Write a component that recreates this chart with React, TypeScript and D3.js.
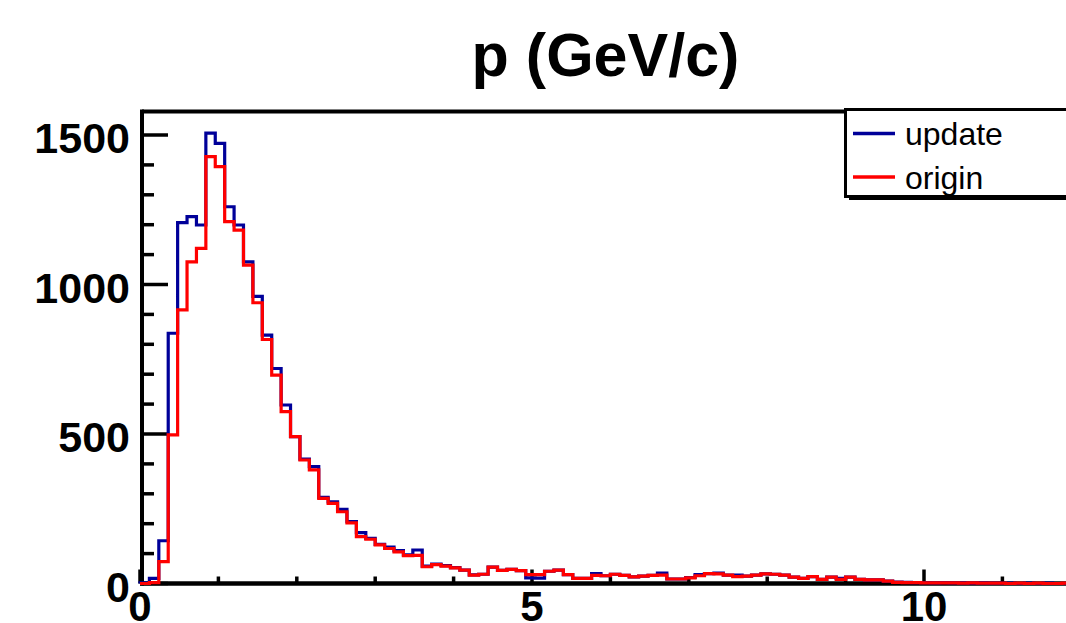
import React from "react";
import * as d3 from "d3";

// ---- data (100 bins, 0..12 GeV/c) ----
const binEdgesRange = [0, 12];
const nBins = 100;
const updateCounts = [
  2, 17, 143, 837, 1207, 1227, 1199, 1506, 1472, 1260,
  1199, 1076, 960, 831, 719, 597, 491, 416, 391, 288,
  273, 248, 207, 170, 151, 131, 122, 110, 96, 112,
  58, 65, 60, 53, 45, 29, 31, 55, 44, 47,
  43, 19, 18, 41, 45, 30, 17, 17, 33, 26,
  31, 27, 22, 25, 27, 35, 15, 15, 20, 30,
  33, 35, 28, 28, 25, 28, 32, 31, 28, 21,
  17, 23, 14, 21, 17, 21, 14, 12, 12, 8,
  5, 4, 3, 3, 2, 3, 2, 2, 1, 2,
  1, 1, 1, 0, 1, 0, 1, 0, 0, 1,
];
const originCounts = [
  0, 3, 73, 497, 915, 1076, 1121, 1428, 1394, 1210,
  1182, 1065, 939, 816, 697, 575, 491, 413, 380, 285,
  268, 240, 203, 157, 148, 129, 117, 106, 93, 94,
  56, 63, 58, 52, 45, 28, 31, 55, 44, 47,
  43, 30, 30, 41, 45, 30, 17, 17, 27, 26,
  31, 27, 22, 25, 27, 28, 15, 15, 19, 26,
  33, 32, 28, 23, 25, 28, 32, 31, 28, 21,
  17, 23, 14, 21, 14, 21, 14, 12, 12, 8,
  4, 3, 3, 2, 2, 2, 2, 1, 2, 1,
  1, 1, 0, 1, 0, 1, 0, 0, 1, 0,
];
const seriesNames = ["update", "origin"];
const yMajorTicks = [0, 500, 1000, 1500];
const yMinorTicks = d3.range(0, 1600, 100);
const xMajorTicks = [0, 5, 10];
const xMinorTicks = d3.range(0, 12, 1);
const yMax = 1578.6;
const titleText = "p (GeV/c)";

const W = 1066;
const H = 623;
const BLUE = "#000099";
const RED = "#ff0000";
const FONT = "'Liberation Sans', Arial, Helvetica, sans-serif";

export default function App() {
  const x = d3.scaleLinear().domain(binEdgesRange).range([140, 140 + 12 * 78.4]);
  const y = d3.scaleLinear().domain([0, yMax]).range([583.5, 111.5]);
  const bw = (binEdgesRange[1] - binEdgesRange[0]) / nBins;

  const stepPath = (counts: number[]) => {
    const pts: [number, number][] = [[x(0), y(0)]];
    counts.forEach((v, i) => {
      pts.push([x(i * bw), y(v)]);
      pts.push([x((i + 1) * bw), y(v)]);
    });
    pts.push([x(binEdgesRange[1]), y(0)]);
    return d3.line()(pts) as string;
  };

  const frameLeft = 142;
  const frameTop = 111.5;
  const frameBottom = 583.5;
  const frameRight = x(binEdgesRange[1]);

  return (
    <svg
      width={W}
      height={H}
      style={{ position: "fixed", left: 0, top: 0, background: "#fff" }}
    >
      <rect x={0} y={0} width={W} height={H} fill="#fff" />
      <defs>
        <clipPath id="plotclip">
          <rect x={138} y={frameTop - 2} width={frameRight - 138 + 4} height={frameBottom - frameTop + 4} />
        </clipPath>
      </defs>

      {/* title */}
      <text
        x={605.5}
        y={76}
        textAnchor="middle"
        fontFamily={FONT}
        fontWeight="bold"
        fontSize={61}
      >
        {titleText}
      </text>

      {/* frame */}
      <line x1={frameLeft} x2={W + 20} y1={frameTop} y2={frameTop} stroke="#000" strokeWidth={4} />
      <line x1={frameLeft} x2={frameLeft} y1={frameTop - 2} y2={frameBottom + 2} stroke="#000" strokeWidth={4} />
      <line x1={frameLeft - 2} x2={W + 20} y1={frameBottom} y2={frameBottom} stroke="#000" strokeWidth={4.5} />

      {/* y ticks */}
      {yMinorTicks.map((t) => {
        const major = yMajorTicks.includes(t);
        return (
          <line
            key={"yt" + t}
            x1={frameLeft}
            x2={frameLeft + (major ? 26 : 12)}
            y1={y(t)}
            y2={y(t)}
            stroke="#000"
            strokeWidth={3.5}
          />
        );
      })}
      {yMajorTicks.map((t) => (
        <text
          key={"yl" + t}
          x={130}
          y={y(t) + 3}
          textAnchor="end"
          dominantBaseline="central"
          fontFamily={FONT}
          fontWeight="bold"
          fontSize={43}
        >
          {t}
        </text>
      ))}

      {/* x ticks */}
      {xMinorTicks.map((t) => {
        const major = xMajorTicks.includes(t);
        return (
          <line
            key={"xt" + t}
            x1={x(t)}
            x2={x(t)}
            y1={frameBottom}
            y2={frameBottom - (major ? 14 : 7)}
            stroke="#000"
            strokeWidth={3.5}
          />
        );
      })}
      {xMajorTicks.map((t) => (
        <text
          key={"xl" + t}
          x={x(t)}
          y={621}
          textAnchor="middle"
          fontFamily={FONT}
          fontWeight="bold"
          fontSize={42}
        >
          {t}
        </text>
      ))}

      {/* histograms */}
      <g clipPath="url(#plotclip)">
        <path d={stepPath(updateCounts)} fill="none" stroke={BLUE} strokeWidth={3.2} strokeLinejoin="miter" />
        <path d={stepPath(originCounts)} fill="none" stroke={RED} strokeWidth={3.2} strokeLinejoin="miter" />
      </g>

      {/* legend */}
      <rect x={849} y={113} width={300} height={87} fill="#000" />
      <rect x={845.5} y={109.5} width={300} height={87} fill="#fff" stroke="#000" strokeWidth={3} />
      <line x1={853} x2={895} y1={133.5} y2={133.5} stroke={BLUE} strokeWidth={3.5} />
      <text x={905} y={145} fontFamily={FONT} fontSize={32}>
        {seriesNames[0]}
      </text>
      <line x1={853} x2={895} y1={177} y2={177} stroke={RED} strokeWidth={3.5} />
      <text x={905} y={188.5} fontFamily={FONT} fontSize={32}>
        {seriesNames[1]}
      </text>
    </svg>
  );
}
